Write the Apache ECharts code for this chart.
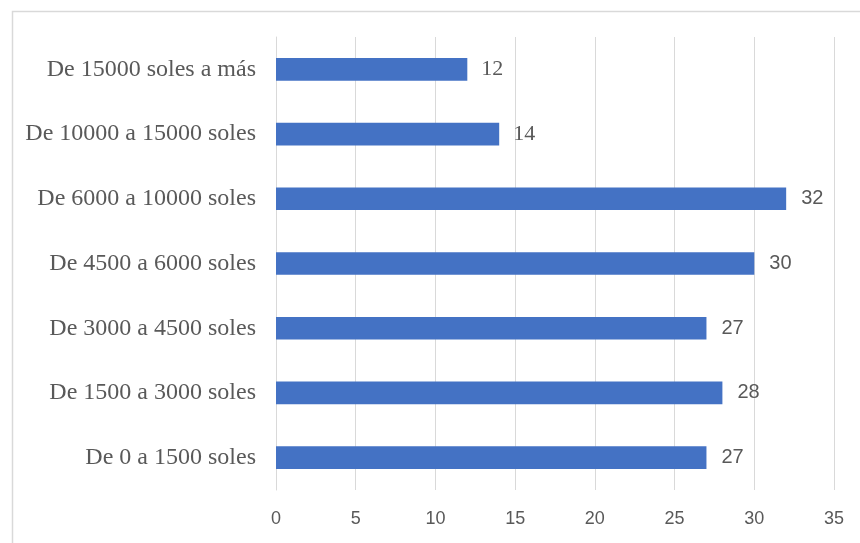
<!DOCTYPE html>
<html>
<head>
<meta charset="utf-8">
<style>
  html, body { margin: 0; padding: 0; background: #ffffff; }
  #chart { width: 860px; height: 543px; }
</style>
<script src="https://cdn.jsdelivr.net/npm/echarts@6/dist/echarts.min.js"></script>
</head>
<body>
<div id="chart"></div>
<script>
// Income ranges, listed from top to bottom
const categories = [
  'De 15000 soles a más',
  'De 10000 a 15000 soles',
  'De 6000 a 10000 soles',
  'De 4500 a 6000 soles',
  'De 3000 a 4500 soles',
  'De 1500 a 3000 soles',
  'De 0 a 1500 soles'
];
const values = [12, 14, 32, 30, 27, 28, 27];
// The first two value labels are set in a serif face
const serifLabelRows = [0, 1];

const axisMin = 0;
const axisMax = 35;
const axisStep = 5;

const textGray = '#595959';
const serif = '"Liberation Serif", "DejaVu Serif", serif';
const sans = '"Liberation Sans", Arimo, sans-serif';

const chart = echarts.init(document.getElementById('chart'), null, { renderer: 'canvas' });

chart.setOption({
  animation: false,
  backgroundColor: '#ffffff',
  graphic: [{
    type: 'rect',
    left: 10,
    top: 9,
    shape: { width: 900, height: 600 },
    style: { fill: 'none', stroke: '#d9d9d9', lineWidth: 1.5 },
    silent: true
  }],
  grid: { left: 276, right: 26, top: 37, bottom: 53, containLabel: false },
  xAxis: {
    type: 'value',
    min: axisMin,
    max: axisMax,
    interval: axisStep,
    axisLine: { show: false },
    axisTick: { show: false },
    splitLine: { show: true, lineStyle: { color: '#d9d9d9', width: 1 } },
    axisLabel: { color: textGray, fontFamily: sans, fontSize: 18, margin: 20 }
  },
  yAxis: {
    type: 'category',
    data: categories,
    inverse: true,
    axisLine: { show: true, lineStyle: { color: '#d9d9d9', width: 1 } },
    axisTick: { show: false },
    axisLabel: { color: textGray, fontFamily: serif, fontSize: 24, margin: 20 }
  },
  series: [{
    type: 'bar',
    data: values.map((v, i) => ({
      value: v,
      label: serifLabelRows.includes(i)
        ? { fontFamily: serif, fontSize: 22, distance: 14 }
        : { fontFamily: sans, fontSize: 20, distance: 15 }
    })),
    barWidth: '35%',
    itemStyle: { color: '#4472c4' },
    label: {
      show: true,
      position: 'right',
      color: textGray
    }
  }]
});
</script>
</body>
</html>
